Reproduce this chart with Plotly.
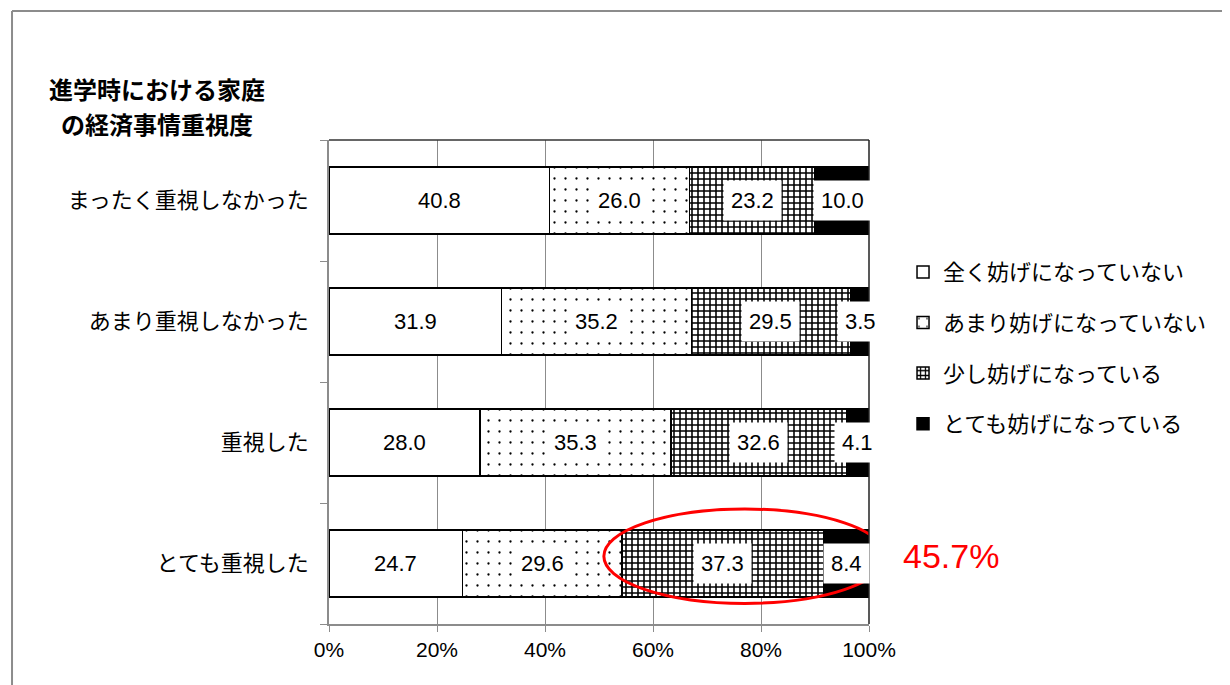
import plotly.graph_objects as go

categories = ["まったく重視しなかった", "あまり重視しなかった", "重視した", "とても重視した"]
series_names = ["全く妨げになっていない", "あまり妨げになっていない", "少し妨げになっている", "とても妨げになっている"]
val_none = [40.8, 31.9, 28.0, 24.7]
val_little_not = [26.0, 35.2, 35.3, 29.6]
val_some = [23.2, 29.5, 32.6, 37.3]
val_very = [10.0, 3.5, 4.1, 8.4]
x_ticks = [0, 20, 40, 60, 80, 100]
x_tick_labels = ["0%", "20%", "40%", "60%", "80%", "100%"]
title_lines = ["進学時における家庭", "の経済事情重視度"]
highlight_category = "とても重視した"

JP = "Noto Sans CJK JP, Noto Sans, sans-serif"
NUM = "Liberation Sans, Noto Sans CJK JP, sans-serif"

series_vals = [val_none, val_little_not, val_some, val_very]
patterns = [
    dict(shape="", fillmode="replace"),
    dict(shape=".", size=11, solidity=0.035, fgcolor="black", bgcolor="white", fillmode="replace"),
    dict(shape="+", size=6, solidity=0.45, fgcolor="black", bgcolor="white", fillmode="replace"),
    dict(shape="", fillmode="replace"),
]
colors = ["white", "white", "white", "black"]

fig = go.Figure()
for i, (name, vals) in enumerate(zip(series_names, series_vals)):
    fig.add_trace(go.Bar(
        y=categories, x=vals, name=name, orientation="h",
        marker=dict(color=colors[i], line=dict(color="black", width=1.5), pattern=patterns[i]),
        legendgroup=f"g{i}", hoverinfo="skip",
    ))

# data labels with white boxes
annotations = []
for j, cat in enumerate(categories):
    cum = 0.0
    for i, vals in enumerate(series_vals):
        v = vals[j]
        annotations.append(dict(
            x=cum + v / 2, y=cat, xref="x", yref="y", text=f"{v:.1f}", showarrow=False,
            bgcolor="white", borderpad=7, font=dict(family=NUM, size=22, color="black"),
        ))
        cum += v

# title
annotations.append(dict(x=-0.3185, y=1.107, xref="paper", yref="paper", text=f"<b>{title_lines[0]}</b>",
                        showarrow=False, xanchor="center", yanchor="middle",
                        font=dict(family=JP, size=24, color="black")))
annotations.append(dict(x=-0.3185, y=1.035, xref="paper", yref="paper", text=f"<b>{title_lines[1]}</b>",
                        showarrow=False, xanchor="center", yanchor="middle",
                        font=dict(family=JP, size=24, color="black")))

# highlight ellipse + total label
hi = categories.index(highlight_category)
start = val_none[hi] + val_little_not[hi]
total_hi = val_some[hi] + val_very[hi]
hi_idx = len(categories) - 1 - hi  # index on reversed category axis
annotations.append(dict(x=(start + total_hi + 6.0) / 100, y=(hi_idx + 0.56) / len(categories),
                        xref="paper", yref="paper",
                        text=f"{total_hi:.1f}%", showarrow=False, xanchor="left", yanchor="middle",
                        font=dict(family=NUM, size=34, color="#ff0000")))

shapes = [
    dict(type="circle", xref="x", yref="y", x0=start - 3.4, x1=start + total_hi + 3.1,
         y0=hi_idx - 0.33, y1=hi_idx + 0.45, line=dict(color="#ff0000", width=3)),
    # plot area top and right border
    dict(type="line", xref="paper", yref="paper", x0=0, x1=1, y0=1, y1=1, line=dict(color="#333", width=1.5)),
    dict(type="line", xref="paper", yref="paper", x0=1, x1=1, y0=0, y1=1, line=dict(color="#222", width=1.5)),
    # outer chart frame (top and left)
    dict(type="line", xref="paper", yref="paper", x0=-0.587, x1=1.7, y0=1.2665, y1=1.2665, line=dict(color="#8c8c8c", width=2)),
    dict(type="line", xref="paper", yref="paper", x0=-0.587, x1=-0.587, y0=1.2665, y1=-0.2, line=dict(color="#8c8c8c", width=2)),
]

fig.update_layout(
    width=1230, height=685,
    margin=dict(l=321, r=369, t=132, b=69),
    paper_bgcolor="white", plot_bgcolor="white",
    barmode="stack", bargap=0.45,
    showlegend=True,
    legend=dict(x=1.063, y=0.7705, xanchor="left", yanchor="top", traceorder="grouped",
                tracegroupgap=19, font=dict(family=JP, size=22, color="black"),
                bgcolor="rgba(0,0,0,0)", itemwidth=30),
    annotations=annotations, shapes=shapes,
    xaxis=dict(range=[0, 100], tickvals=x_ticks, ticktext=x_tick_labels,
               showgrid=True, gridcolor="#8c8c8c", gridwidth=1,
               showline=True, linecolor="#8c8c8c", linewidth=1.5,
               ticks="outside", ticklen=6, tickcolor="#8c8c8c",
               tickfont=dict(family=NUM, size=21, color="black"), zeroline=False, fixedrange=True),
    yaxis=dict(categoryorder="array", categoryarray=categories[::-1], range=[-0.5, 3.5],
               showline=True, linecolor="#8c8c8c", linewidth=1.5,
               ticks="outside", ticklen=7, tickcolor="#8c8c8c", tickson="boundaries",
               ticklabelstandoff=14, showgrid=False,
               tickfont=dict(family=JP, size=22, color="black"), fixedrange=True),
)

fig.write_html("out.html")
